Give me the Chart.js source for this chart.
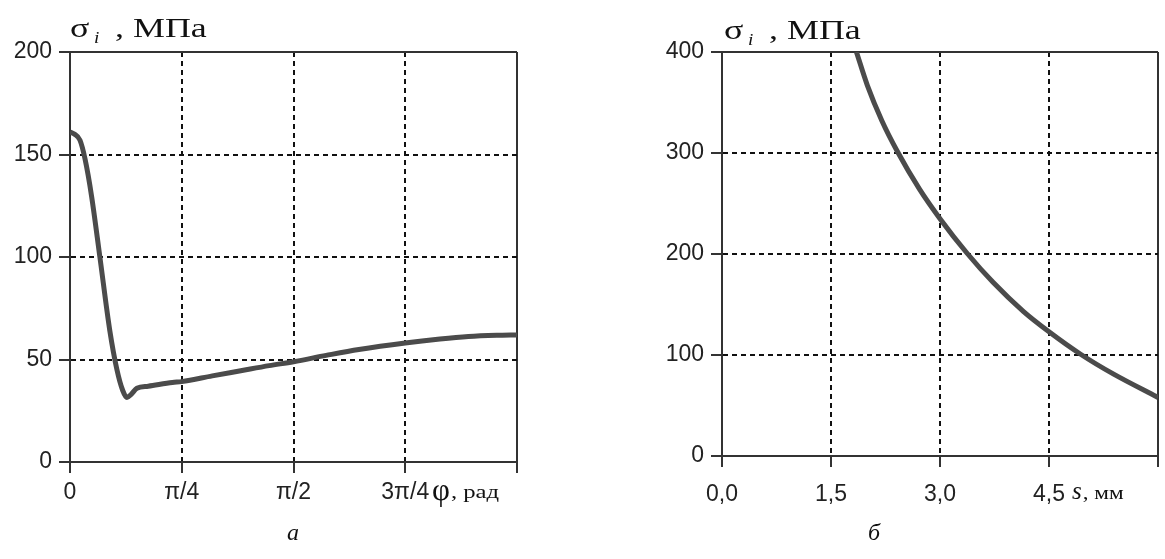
<!DOCTYPE html>
<html><head><meta charset="utf-8">
<script src="https://cdn.jsdelivr.net/npm/chart.js@4"></script>
<style>
html,body{margin:0;padding:0;background:#fff;}
#wrap{position:relative;width:1165px;height:559px;overflow:hidden;background:#fff;}
canvas{position:absolute;top:0;}
</style></head><body>
<div id="wrap">
<canvas id="ca" width="600" height="559" style="left:0;width:600px;height:559px"></canvas>
<canvas id="cb" width="565" height="559" style="left:600px;width:565px;height:559px"></canvas>
</div>
<script>
// ---- data: chart а ----
const phiValues = [0, 0.03, 0.07, 0.105, 0.152, 0.21, 0.28, 0.33, 0.37, 0.40, 0.43, 0.47, 0.55, 0.72, 0.785, 1.0, 1.2, 1.4, 1.571, 1.8, 2.03, 2.356, 2.6, 2.8, 3.0, 3.1416];
const sigmaA    = [161, 160, 157, 148, 129.5, 100, 64, 45, 35, 31.5, 33, 36, 37, 38.8, 39.2, 42, 44.5, 47, 48.9, 52, 54.9, 58.1, 60, 61.2, 61.8, 62];
const xTicksA = [0, Math.PI / 4, Math.PI / 2, 3 * Math.PI / 4, Math.PI];
const xTickLabelsA = ['0', 'π/4', 'π/2', '3π/4', ''];
const yTicksA = [0, 50, 100, 150, 200];
// ---- data: chart б ----
const sValues = [1.85, 2.0, 2.2, 2.41, 2.72, 3.0, 3.37, 3.73, 4.15, 4.5, 4.93, 5.39, 6.0];
const sigmaB  = [400, 367, 332, 302, 264, 235, 201, 172, 143, 123, 101, 81, 58];
const xTicksB = [0, 1.5, 3.0, 4.5, 6.0];
const xTickLabelsB = ['0,0', '1,5', '3,0', '4,5', ''];
const yTicksB = [0, 100, 200, 300, 400];

const AXIS = '#333';
const GRID = '#111';
const CURVE = '#4b4b4b';
const TICK_FONT = {family: "'Liberation Sans', Arial, sans-serif", size: 23};
const SERIF = "'Liberation Serif', 'Times New Roman', serif";

function scaleOpts(tickValues, labels, isX, tickLen, pad, fitSize) {
  const min = tickValues[0], max = tickValues[tickValues.length - 1];
  return {
    type: 'linear', position: isX ? 'bottom' : 'left', min: min, max: max,
    afterBuildTicks: s => { s.ticks = tickValues.map(v => ({value: v})); },
    afterFit: s => {
      if (isX) { s.height = fitSize; s.paddingLeft = 0; s.paddingRight = 0; }
      else { s.width = fitSize; }
    },
    ticks: {
      color: '#222', font: TICK_FONT, padding: pad, autoSkip: false, maxRotation: 0, minRotation: 0,
      callback: (v, i) => labels ? labels[i] : String(v)
    },
    grid: {
      color: c => (c.tick && c.tick.value === min) ? 'rgba(0,0,0,0)' : ((c.tick && c.tick.value === max) ? AXIS : GRID),
      lineWidth: 2, tickLength: tickLen, tickColor: AXIS, tickWidth: 2, tickBorderDash: []
    },
    border: {display: true, color: AXIS, width: 2, dash: c => (c.tick && c.tick.value !== max) ? [5, 4] : []}
  };
}

function txt(ctx, s, x, y, font, sx) {
  ctx.save();
  ctx.font = font;
  ctx.fillStyle = '#111';
  ctx.textBaseline = 'alphabetic';
  ctx.translate(x, y);
  ctx.scale(sx || 1, 1);
  ctx.fillText(s, 0, 0);
  const w = ctx.measureText(s).width * (sx || 1);
  ctx.restore();
  return w;
}

function titleText(ctx, x, y) {
  txt(ctx, 'σ', x, y, '27px ' + SERIF, 1.33);
  txt(ctx, 'i', x + 24, y + 6, 'italic 16px ' + SERIF, 1.2);
  txt(ctx, ', МПа', x + 45, y, '27px ' + SERIF, 1.33);
}

function makeChart(id, xs, ys, xT, xL, yT, geom, extra) {
  const ctxEl = document.getElementById(id);
  return new Chart(ctxEl, {
    type: 'line',
    data: {datasets: [{data: xs.map((x, i) => ({x: x, y: ys[i]})), borderColor: CURVE, borderWidth: 5,
      pointRadius: 0, cubicInterpolationMode: 'monotone', fill: false}]},
    options: {
      responsive: false, animation: false, devicePixelRatio: 1,
      layout: {padding: geom.padding},
      plugins: {legend: {display: false}, tooltip: {enabled: false}, title: {display: false}},
      scales: {
        x: scaleOpts(xT, xL, true, 11, geom.xPad, geom.xFit),
        y: scaleOpts(yT, null, false, 11, 7, geom.yFit)
      }
    },
    plugins: [{id: 'texts', afterDraw: chart => extra(chart.ctx, chart.chartArea)}]
  });
}

makeChart('ca', phiValues, sigmaA, xTicksA, xTickLabelsA, yTicksA,
  {padding: {left: 0, right: 83, top: 52, bottom: 37}, xFit: 60, yFit: 70, xPad: 6},
  (ctx, a) => {
    titleText(ctx, 70, 37);
    const w = txt(ctx, 'φ', 432, 500, '31px ' + SERIF, 1.0);
    txt(ctx, ', рад', 432 + w + 1, 498, '19px ' + SERIF, 1.3);
    txt(ctx, 'а', 287, 540, 'italic 24px ' + SERIF, 1.0);
  });

makeChart('cb', sValues, sigmaB, xTicksB, xTickLabelsB, yTicksB,
  {padding: {left: 0, right: 7, top: 52, bottom: 43}, xFit: 60, yFit: 122, xPad: 14},
  (ctx, a) => {
    titleText(ctx, 124, 39);
    const w = txt(ctx, 's', 472, 499, 'italic 25px ' + SERIF, 1.0);
    txt(ctx, ', мм', 472 + w + 1, 499, '19px ' + SERIF, 1.22);
    txt(ctx, 'б', 268, 540, 'italic 24px ' + SERIF, 1.0);
  });
</script>
</body></html>
